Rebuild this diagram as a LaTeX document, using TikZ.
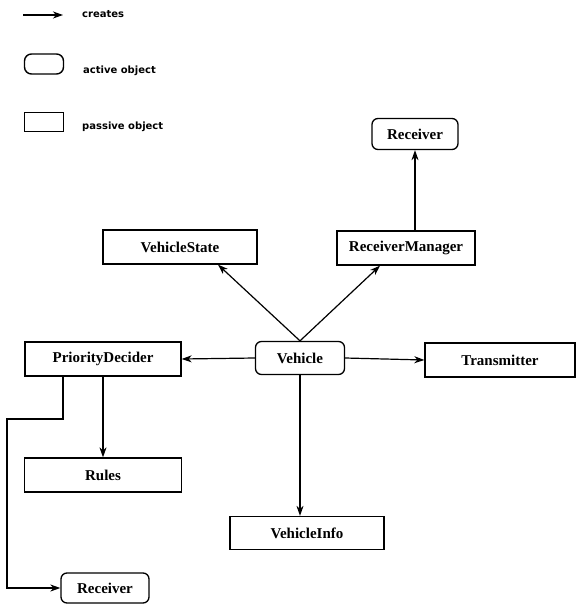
\documentclass[tikz,border=0pt]{standalone}
\usepackage{fontspec}
\setmainfont{Liberation Serif}
\newfontfamily\legendfont{DejaVu Sans}
\usetikzlibrary{arrows.meta}
\begin{document}
\begin{tikzpicture}[x=1pt,y=-1pt,
  obj/.style={draw, line width=1.3pt, minimum height=34pt, inner sep=0pt, font=\fontsize{15}{17}\selectfont\bfseries},
  passive/.style={obj, rectangle},
  active/.style={obj, rounded corners=6pt},
  conn/.style={line width=1.2pt, -{Stealth[length=10pt,width=7pt,inset=3pt]}},
  legtext/.style={anchor=west, font=\legendfont\bfseries\fontsize{10}{12}\selectfont, inner sep=0pt},
  legbox/.style={draw, line width=1.4pt, minimum width=39pt, minimum height=19pt, inner sep=0pt}]
\useasboundingbox (0,0) rectangle (577,604);
% legend
\coordinate (la) at (23,15);
\coordinate (lb) at (63,15);
\draw[conn] (la) -- (lb);
\node[legtext] (lcreates) at (82,14) {creates};
\node[legbox, rounded corners=7pt, minimum height=20pt] (lact) at (44,64) {};
\node[legtext] (lactt) at (83,71) {active object};
\node[legbox] (lpas) at (44,122) {};
\node[legtext] (lpast) at (82,127) {passive object};
% objects
\node[active, minimum width=86pt, minimum height=31pt] (rtop) at (415,134) {Receiver};
\node[passive, minimum width=154pt] (vstate) at (180,247) {VehicleState};
\node[passive, minimum width=138pt] (rmgr) at (406,248) {ReceiverManager};
\node[passive, minimum width=156pt] (pdec) at (103,359) {PriorityDecider};
\node[active, minimum width=89pt, minimum height=33pt] (veh) at (300,358) {Vehicle};
\node[passive, minimum width=150pt] (trans) at (500,360) {Transmitter};
\node[passive, minimum width=157pt] (rules) at (103,475) {Rules};
\node[passive, minimum width=154pt, minimum height=33pt] (vinfo) at (307,533) {VehicleInfo};
\node[active, minimum width=88pt, minimum height=30pt] (rbot) at (105,588) {Receiver};
% connectors
\draw[conn] (veh.north) -- ([xshift=38pt]vstate.south);
\draw[conn] (veh.north) -- ([xshift=-26pt]rmgr.south);
\draw[conn] (rmgr.north -| rtop.south) -- (rtop.south);
\draw[conn] (veh.west) -- (pdec.east);
\draw[conn] (veh.east) -- (trans.west);
\draw[conn] (veh.south) -- (veh.south |- vinfo.north);
\draw[conn] (pdec.south) -- (rules.north);
\coordinate (k1) at (63,419);
\coordinate (k2) at (7,419);
\draw[conn] (pdec.south -| k1) -- (k1) -- (k2) |- (rbot.west);
\end{tikzpicture}
\end{document}
